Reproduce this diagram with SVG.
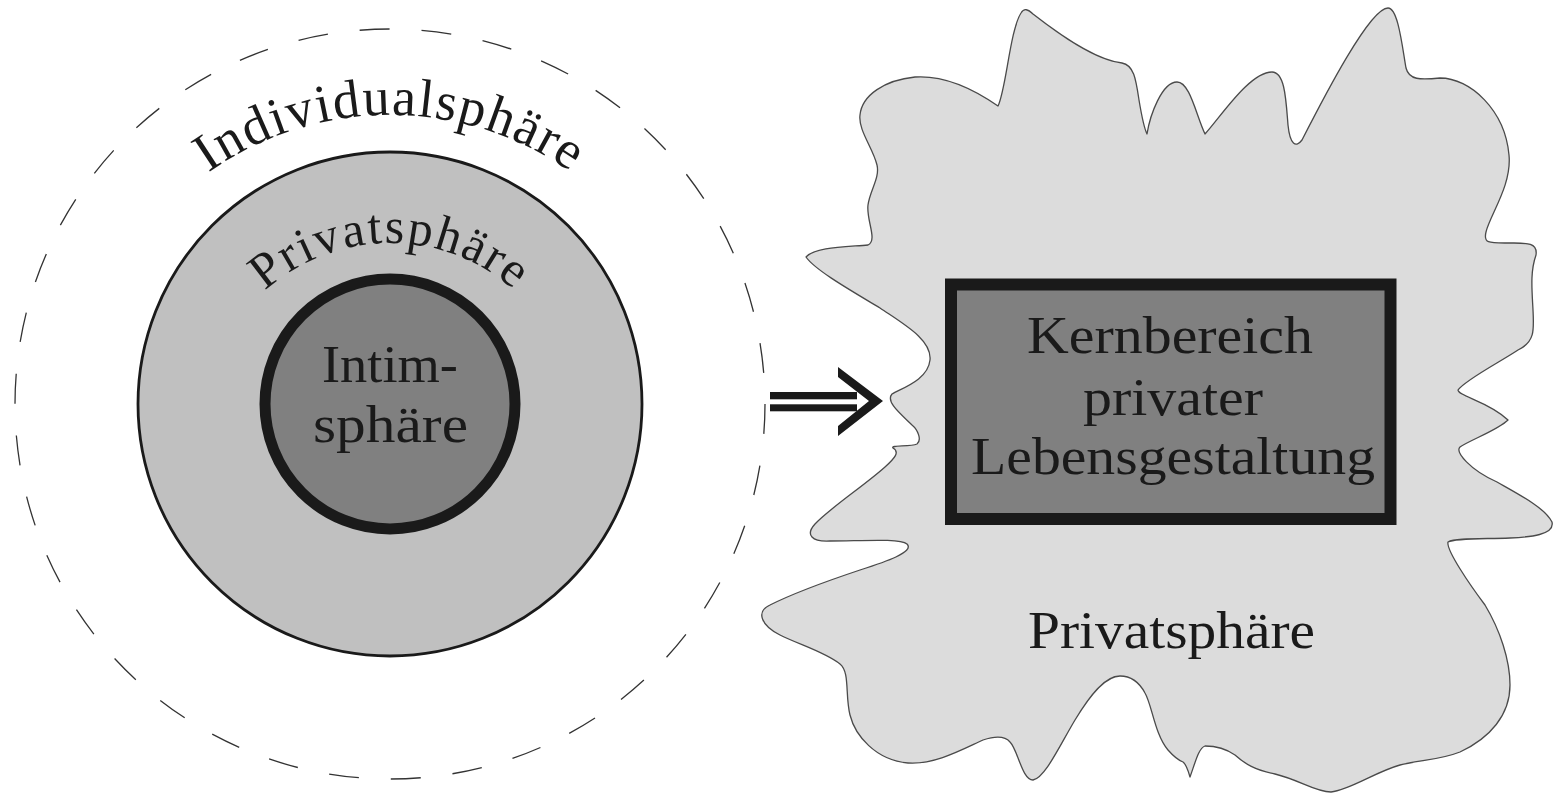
<svg xmlns="http://www.w3.org/2000/svg" width="1553" height="793" viewBox="0 0 1553 793">
<style>
.t{font-family:"Liberation Serif","Times New Roman",serif;fill:#1a1a1a;}
.big{font-size:52px;}
.ring{font-size:54px;}
.ring2{font-size:50px;}
</style>
<defs>
<path id="arcOuter" d="M 75,430 A 315 315 0 0 1 705,430"/>
<path id="arcInner" d="M 203,430 A 187 187 0 0 1 577,430"/>
</defs>
<rect x="0" y="0" width="1553" height="793" fill="#ffffff"/>

<g id="individualsphaere">
<circle cx="390" cy="404" r="375" fill="none" stroke="#333" stroke-width="1.3" stroke-dasharray="30 32"/>
<text class="t ring" letter-spacing="1.5"><textPath href="#arcOuter" startOffset="50%" text-anchor="middle">Individualsphäre</textPath></text>
</g>

<g id="privatsphaere-left">
<circle cx="390" cy="404" r="252" fill="#c0c0c0" stroke="#1a1a1a" stroke-width="2.8"/>
<text class="t ring2" letter-spacing="2"><textPath href="#arcInner" startOffset="50%" text-anchor="middle">Privatsphäre</textPath></text>
</g>

<g id="intimsphaere">
<circle cx="390" cy="404" r="125" fill="#808080" stroke="#1a1a1a" stroke-width="11"/>
<text class="t big" x="322" y="382" textLength="136" lengthAdjust="spacingAndGlyphs">Intim-</text>
<text class="t big" x="313" y="442" textLength="155" lengthAdjust="spacingAndGlyphs">sphäre</text>
</g>

<g id="connectors">
<rect x="770" y="392" width="87" height="7.3" fill="#1a1a1a"/>
<rect x="770" y="404.3" width="87" height="7" fill="#1a1a1a"/>
<polygon points="838,367 883,401 838,436 838,426 869,401 838,377" fill="#1a1a1a"/>
</g>

<g id="privatsphaere-right">
<path fill="#dcdcdc" stroke="#4a4a4a" stroke-width="1.3" stroke-linejoin="round" d="M 806,257
C 815,247 845,247 868,245
C 878,240 866,220 868,205
C 870,190 880,178 877,165
C 873,148 858,130 860,115
C 862,95 885,80 915,77
C 945,75 975,90 998,106
C 1006,90 1010,30 1021,13
C 1024,8 1028,9 1033,14
C 1060,35 1095,60 1122,63
C 1134,65 1136,80 1139,100
C 1142,118 1144,128 1147,134
C 1150,115 1162,82 1177,82
C 1190,82 1196,115 1205,134
C 1222,115 1250,72 1272,72
C 1285,72 1286,100 1288,125
C 1290,145 1296,148 1302,140
C 1325,95 1370,8 1388,8
C 1398,8 1402,45 1406,68
C 1409,80 1420,80 1440,78
C 1470,78 1505,110 1509,155
C 1512,185 1490,215 1486,232
C 1483,244 1490,243 1510,243
C 1525,243 1538,242 1536,255
C 1530,272 1532,290 1533,310
C 1534,330 1535,342 1518,350
C 1500,362 1465,380 1458,390
C 1458,396 1490,402 1508,420
C 1498,430 1470,440 1460,447
C 1455,452 1470,470 1497,482
C 1520,495 1545,508 1552,522
C 1555,535 1530,537 1510,538
C 1480,539 1455,538 1448,542
C 1446,550 1470,585 1485,605
C 1500,630 1510,660 1510,685
C 1510,715 1490,738 1460,752
C 1440,760 1420,760 1400,765
C 1375,772 1350,790 1331,792
C 1315,792 1300,780 1275,774
C 1255,770 1245,764 1235,755
C 1225,748 1215,746 1205,746
C 1199,748 1196,760 1190,777
C 1188,770 1186,764 1183,762
C 1178,760 1175,758 1168,750
C 1155,735 1152,705 1145,693
C 1138,680 1130,676 1120,676
C 1105,676 1090,695 1075,720
C 1060,745 1045,778 1033,780
C 1022,780 1018,750 1010,742
C 1005,736 995,736 983,740
C 965,748 935,765 908,763
C 875,760 855,735 850,715
C 845,695 850,672 840,664
C 825,652 800,645 780,635
C 762,626 755,612 770,605
C 790,595 830,580 860,570
C 885,562 915,552 907,544
C 900,538 860,541 830,541
C 812,542 805,535 815,524
C 830,508 865,485 885,467
C 895,458 900,452 893,448
C 890,445 910,447 917,444
C 922,440 918,430 912,425
C 902,415 885,402 892,394
C 902,388 928,380 930,360
C 932,340 905,325 880,308
C 850,290 815,270 806,257 Z"/>
<text class="t big" x="1028" y="648" textLength="287" lengthAdjust="spacingAndGlyphs">Privatsphäre</text>
</g>

<g id="kernbereich">
<rect x="951" y="284.5" width="439.5" height="234.5" fill="#808080" stroke="#1a1a1a" stroke-width="12"/>
<text class="t big" x="1027" y="353" textLength="286" lengthAdjust="spacingAndGlyphs">Kernbereich</text>
<text class="t big" x="1083" y="415" textLength="180" lengthAdjust="spacingAndGlyphs">privater</text>
<text class="t big" x="971" y="474" textLength="404" lengthAdjust="spacingAndGlyphs">Lebensgestaltung</text>
</g>
</svg>
